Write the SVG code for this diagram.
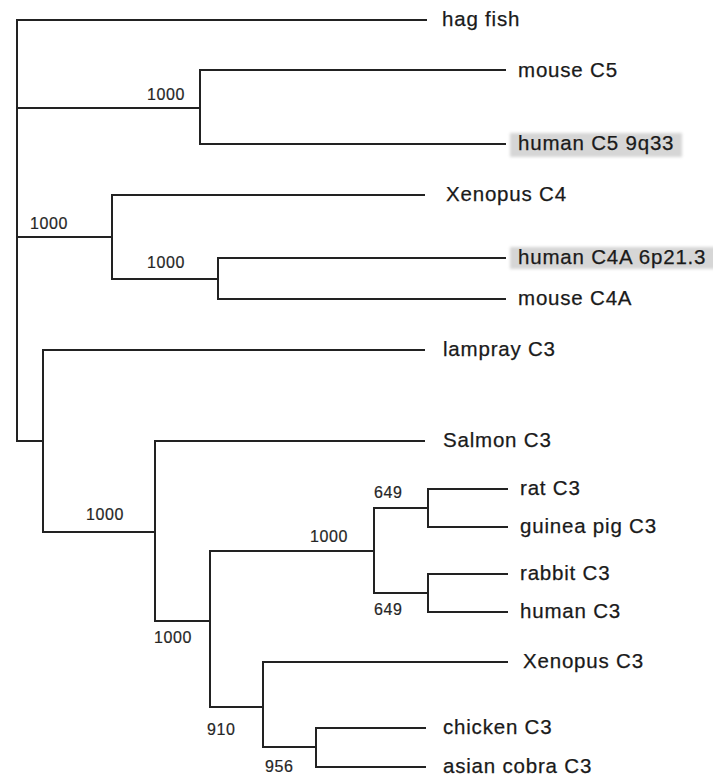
<svg xmlns="http://www.w3.org/2000/svg" width="713" height="778" viewBox="0 0 713 778">
<style>
.e{stroke:#222;stroke-width:2;fill:none;stroke-linecap:square}
.t{font-family:"Liberation Sans",Arial,sans-serif;font-size:20.5px;letter-spacing:0.8px;fill:#1a1a1a;stroke:#1a1a1a;stroke-width:0.25}
.n{font-family:"Liberation Sans",Arial,sans-serif;font-size:16px;letter-spacing:0.6px;fill:#262626;stroke:#262626;stroke-width:0.2}
.hl{fill:#d6d6d6}
</style>
<defs>
<filter id="soft" x="-10%" y="-30%" width="120%" height="160%"><feGaussianBlur stdDeviation="1.8"/></filter>
</defs>
<rect width="713" height="778" fill="#fff"/>
<g id="connectors">
<path class="e" d="M17,20 V441"/>
<path class="e" d="M17,20 H426"/>
<path class="e" d="M17,108 H200 M200,70 V144 M200,70 H505 M200,144 H505"/>
<path class="e" d="M17,237 H112 M112,195 V279 M112,195 H424 M112,279 H218 M218,258 V299 M218,258 H505 M218,299 H505"/>
<path class="e" d="M17,441 H43 M43,350 V532 M43,350 H424 M43,532 H155 M155,441 V621 M155,441 H424"/>
<path class="e" d="M155,621 H210 M210,551 V707 M210,551 H374 M374,508 V593"/>
<path class="e" d="M374,508 H428 M428,489 V527 M428,489 H507 M428,527 H507"/>
<path class="e" d="M374,593 H428 M428,574 V612 M428,574 H507 M428,612 H507"/>
<path class="e" d="M210,707 H263 M263,662 V747 M263,662 H507 M263,747 H316 M316,728 V767 M316,728 H425 M316,767 H425"/>
</g>
<g id="bootstrap">
<text class="n" x="147" y="100">1000</text>
<text class="n" x="30" y="229">1000</text>
<text class="n" x="147" y="268">1000</text>
<text class="n" x="86" y="520">1000</text>
<text class="n" x="154" y="643">1000</text>
<text class="n" x="310" y="542">1000</text>
<text class="n" x="374" y="498">649</text>
<text class="n" x="374" y="615">649</text>
<text class="n" x="207" y="735">910</text>
<text class="n" x="265" y="772">956</text>
</g>
<g id="hag-fish"><text class="t" x="442" y="26">hag fish</text></g>
<g id="mouse-C5"><text class="t" x="518" y="77">mouse C5</text></g>
<g id="human-C5"><rect class="hl" x="510" y="133" width="172" height="24" filter="url(#soft)"/><text class="t" x="518" y="150">human C5 9q33</text></g>
<g id="xenopus-C4"><text class="t" x="446" y="201">Xenopus C4</text></g>
<g id="human-C4A"><rect class="hl" x="510" y="247" width="206" height="22" filter="url(#soft)"/><text class="t" x="518" y="264">human C4A 6p21.3</text></g>
<g id="mouse-C4A"><text class="t" x="518" y="305">mouse C4A</text></g>
<g id="lampray-C3"><text class="t" x="443" y="356">lampray C3</text></g>
<g id="salmon-C3"><text class="t" x="443" y="447">Salmon C3</text></g>
<g id="rat-C3"><text class="t" x="520" y="495">rat C3</text></g>
<g id="guinea-pig-C3"><text class="t" x="520" y="533">guinea pig C3</text></g>
<g id="rabbit-C3"><text class="t" x="520" y="580">rabbit C3</text></g>
<g id="human-C3"><text class="t" x="520" y="618">human C3</text></g>
<g id="xenopus-C3"><text class="t" x="523" y="668">Xenopus C3</text></g>
<g id="chicken-C3"><text class="t" x="443" y="734">chicken C3</text></g>
<g id="asian-cobra-C3"><text class="t" x="443" y="773">asian cobra C3</text></g>
</svg>
